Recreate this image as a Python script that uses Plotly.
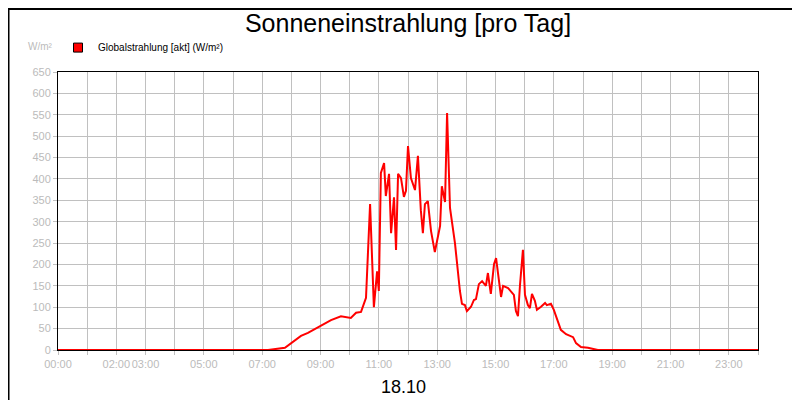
import plotly.graph_objects as go

# Stunden (dezimal) und Globalstrahlung in W/m²
stunden = [0, 7.20, 7.78, 7.99, 8.33, 8.57, 9.02, 9.36, 9.70, 10.04, 10.22, 10.39, 10.56,
           10.70, 10.83, 10.94, 11.00, 11.07, 11.18, 11.24, 11.35, 11.42, 11.52, 11.59,
           11.66, 11.76, 11.86, 11.93, 12.00, 12.10, 12.24, 12.34, 12.44, 12.51, 12.58,
           12.68, 12.79, 12.92, 13.10, 13.16, 13.27, 13.34, 13.44, 13.61, 13.78, 13.85,
           13.95, 14.02, 14.16, 14.26, 14.33, 14.43, 14.54, 14.67, 14.74, 14.84, 14.95,
           15.02, 15.19, 15.26, 15.43, 15.63, 15.70, 15.77, 15.84, 15.94, 16.01, 16.11,
           16.18, 16.25, 16.35, 16.42, 16.56, 16.70, 16.76, 16.90, 17.00, 17.11, 17.24,
           17.42, 17.66, 17.76, 17.93, 18.17, 18.51, 24]
strahlung = [0, 0, 5, 16, 33, 40, 58, 70, 79, 75, 87, 89, 122,
             341, 100, 184, 138, 414, 437, 360, 412, 273, 357, 234,
             412, 402, 358, 372, 477, 402, 374, 454, 327, 273, 341,
             348, 278, 229, 290, 383, 346, 554, 332, 250, 138, 108,
             105, 91, 101, 117, 119, 154, 161, 150, 180, 131, 201,
             215, 124, 150, 145, 129, 91, 79, 152, 234, 129, 105,
             98, 131, 115, 94, 101, 110, 105, 108, 94, 70, 47,
             37, 30, 16, 7, 5, 0, 0]

tick_stunden = list(range(0, 25))
tick_labels = {0: "00:00", 2: "02:00", 3: "03:00", 5: "05:00", 7: "07:00", 9: "09:00",
               11: "11:00", 13: "13:00", 15: "15:00", 17: "17:00", 19: "19:00",
               21: "21:00", 23: "23:00"}

fig = go.Figure()
fig.add_trace(go.Scatter(x=stunden, y=strahlung, mode="lines",
                         line=dict(color="#ff0000", width=2), showlegend=False))
# Legendeneintrag als rotes Quadrat
fig.add_trace(go.Scatter(x=[None], y=[None], mode="markers",
                         marker=dict(symbol="square", size=9, color="#ff0000",
                                     line=dict(color="black", width=1)),
                         name="Globalstrahlung [akt] (W/m²)"))

fig.update_layout(
    width=800, height=400,
    paper_bgcolor="white", plot_bgcolor="white",
    margin=dict(l=50, r=50, t=64, b=58, autoexpand=False),
    font=dict(family="Liberation Sans, Arial", size=11, color="#bbbbbb"),
    title=dict(text="Sonneneinstrahlung [pro Tag]", x=0.5, xanchor="center",
               y=0.985, yanchor="top", font=dict(size=25, color="black")),
    showlegend=True,
    legend=dict(x=0.0, y=1.14, xanchor="left", yanchor="top", orientation="h",
                font=dict(size=10, color="black"), itemwidth=30,
                bgcolor="rgba(0,0,0,0)"),
    shapes=[dict(type="rect", xref="paper", yref="paper", x0=-0.0707, x1=1.0707,
                 y0=-0.2068, y1=1.2266, line=dict(color="black", width=2))],
    annotations=[
        dict(text="W/m²", xref="paper", yref="paper", x=-0.005, y=1.065, xanchor="right",
             yanchor="bottom", showarrow=False, font=dict(size=10, color="#bbbbbb")),
        dict(text="18.10", xref="paper", yref="paper", x=0.493, y=-0.09, xanchor="center",
             yanchor="top", showarrow=False, font=dict(size=18, color="black")),
    ],
)
fig.update_xaxes(range=[0, 24], tickvals=tick_stunden,
                 ticktext=[tick_labels.get(h, "") for h in tick_stunden],
                 tickangle=0, automargin=False,
                 showgrid=True, gridcolor="#c0c0c0", showline=True, linecolor="black",
                 mirror=True, ticks="outside", tickcolor="#c0c0c0", ticklen=4,
                 zeroline=False)
fig.update_yaxes(range=[0, 650], dtick=50, showgrid=True, gridcolor="#c0c0c0",
                 automargin=False,
                 showline=True, linecolor="black", mirror=True, ticks="outside",
                 tickcolor="#c0c0c0", ticklen=4, zeroline=False)

fig.write_html("out.html")
